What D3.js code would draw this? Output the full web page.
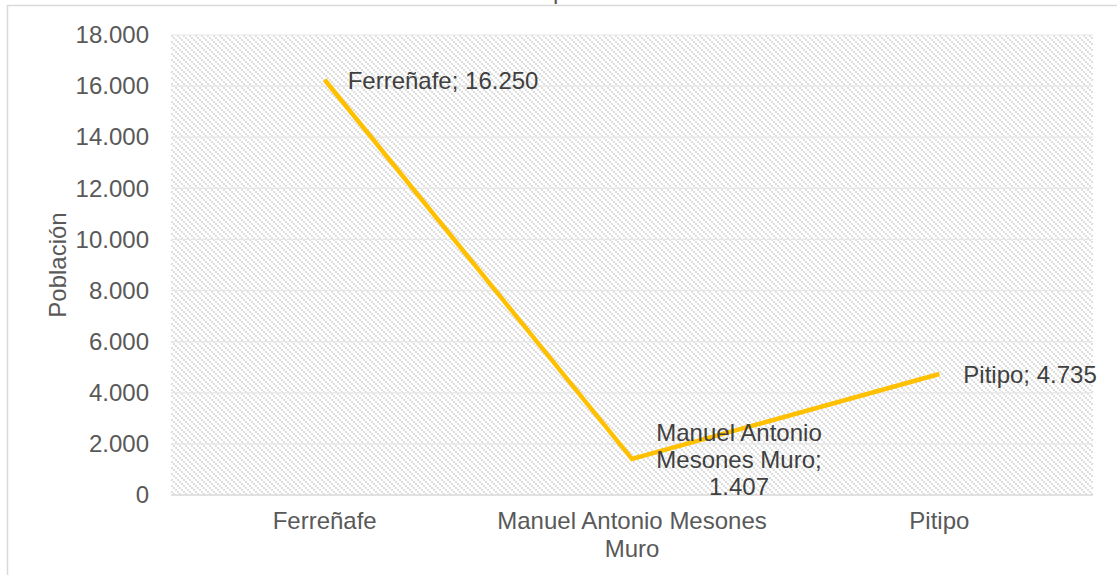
<!DOCTYPE html>
<html>
<head>
<meta charset="utf-8">
<script src="https://cdn.jsdelivr.net/npm/d3@7"></script>
<style>
  body { margin: 0; background: #fff; }
  text { font-family: "Liberation Sans", Arial, sans-serif; }
</style>
</head>
<body>
<svg id="chart"></svg>
<script>
// data
const categories = ['Ferreñafe', 'Manuel Antonio Mesones Muro', 'Pitipo'];
const poblacion = [16250, 1407, 4735];
const yTicks = [0, 2000, 4000, 6000, 8000, 10000, 12000, 14000, 16000, 18000];
const title = 'Población por distrito';

const width = 1117, height = 575;
const margin = {top: 35, right: 24, bottom: 80, left: 171};

const svg = d3.select('#chart')
    .attr('width', width)
    .attr('height', height);

const defs = svg.append('defs');
const pat = defs.append('pattern')
    .attr('id', 'hatch')
    .attr('patternUnits', 'userSpaceOnUse')
    .attr('width', 6)
    .attr('height', 6);
[0, 2, 4].forEach(d => {
    pat.append('rect')
        .attr('x', d).attr('y', d)
        .attr('width', 2).attr('height', 2)
        .attr('fill', '#dedede');
});

// outer border (top + left only visible)
svg.append('line')
    .attr('x1', 7).attr('x2', width).attr('y1', 5.5).attr('y2', 5.5)
    .attr('stroke', '#d9d9d9').attr('stroke-width', 1.5);
svg.append('line')
    .attr('x1', 7.5).attr('x2', 7.5).attr('y1', 5).attr('y2', height)
    .attr('stroke', '#d9d9d9').attr('stroke-width', 1.5);

// clipped title
svg.append('text')
    .attr('x', 553).attr('y', -1)
    .attr('text-anchor', 'middle')
    .style('font-size', '24px')
    .attr('fill', '#595959')
    .text(title);

const iw = width - margin.left - margin.right;
const ih = height - margin.top - margin.bottom;

const chart = svg.append('g')
    .attr('transform', `translate(${margin.left},${margin.top})`);

const x = d3.scaleBand().domain(categories).range([0, iw]);
const y = d3.scaleLinear().domain([0, 18000]).range([ih, 0]);

chart.append('rect')
    .attr('width', iw).attr('height', ih)
    .attr('fill', 'url(#hatch)');

// gridlines
chart.selectAll('.grid')
    .data(yTicks)
    .enter()
    .append('line')
    .attr('x1', 0).attr('x2', iw)
    .attr('y1', d => y(d)).attr('y2', d => y(d))
    .attr('stroke', d => d === 0 ? '#d9d9d9' : '#e6e6e6')
    .attr('stroke-width', d => d === 0 ? 1.5 : 1.2);

const fmt = d3.formatLocale({decimal: ',', thousands: '.', grouping: [3], currency: ['', '']}).format(',d');

// y axis
const yAxis = chart.append('g')
    .call(d3.axisLeft(y).tickValues(yTicks).tickFormat(fmt).tickSize(0).tickPadding(22));
yAxis.select('.domain').remove();
yAxis.selectAll('text')
    .style('font-size', '24px')
    .style('font-family', '"Liberation Sans", Arial, sans-serif')
    .attr('fill', '#595959');

// x axis
const xAxis = chart.append('g')
    .attr('transform', `translate(0,${ih})`)
    .call(d3.axisBottom(x).tickSize(0).tickPadding(17));
xAxis.select('.domain').remove();
xAxis.selectAll('text')
    .style('font-size', '24px')
    .style('font-family', '"Liberation Sans", Arial, sans-serif')
    .attr('fill', '#595959')
    .each(function(d) {
        if (d === 'Manuel Antonio Mesones Muro') {
            const t = d3.select(this);
            t.text(null);
            t.append('tspan').attr('x', 0).attr('dy', '0.71em').text('Manuel Antonio Mesones');
            t.append('tspan').attr('x', 0).attr('dy', '1.15em').text('Muro');
            t.attr('dy', null);
        }
    });

// y title
svg.append('text')
    .attr('transform', 'translate(66,265) rotate(-90)')
    .attr('text-anchor', 'middle')
    .style('font-size', '24px')
    .attr('fill', '#595959')
    .text('Población');

// line
const line = d3.line()
    .x((d, i) => x(categories[i]) + x.bandwidth() / 2)
    .y(d => y(d));

chart.append('path')
    .datum(poblacion)
    .attr('d', line)
    .attr('fill', 'none')
    .attr('stroke', '#ffc000')
    .attr('stroke-width', 4.5)
    .attr('stroke-linejoin', 'miter');

// data labels
const lab = chart.append('g')
    .style('font-size', '24px')
    .attr('fill', '#404040');

const px = i => x(categories[i]) + x.bandwidth() / 2;

lab.append('text')
    .attr('x', px(0) + 23).attr('y', y(poblacion[0]) + 9)
    .text(`${categories[0]}; ${fmt(poblacion[0])}`);

lab.append('text')
    .attr('x', px(2) + 24).attr('y', y(poblacion[2]) + 9)
    .text(`${categories[2]}; ${fmt(poblacion[2])}`);

const mLines = ['Manuel Antonio', 'Mesones Muro;', fmt(poblacion[1])];
lab.append('text')
    .attr('text-anchor', 'middle')
    .selectAll('tspan')
    .data(mLines)
    .enter()
    .append('tspan')
    .attr('x', px(1) + 107)
    .attr('y', (d, i) => y(poblacion[1]) - 18 + i * 27)
    .text(d => d);
</script>
</body>
</html>
